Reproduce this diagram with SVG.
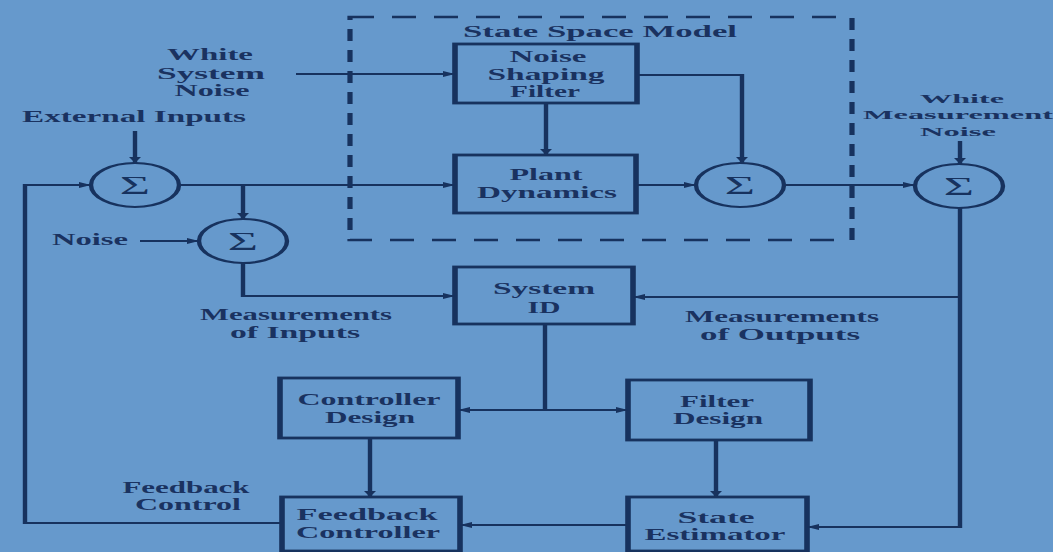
<svg xmlns="http://www.w3.org/2000/svg" width="1053" height="552" viewBox="0 0 1053 552">
<defs>
<style>
.bg{fill:#6699cc}
.box{fill:none;stroke:#17325e;stroke-width:2.8}
.sum{fill:none;stroke:#17325e;stroke-width:2.2}
.ln{fill:none;stroke:#17325e;stroke-width:2.2}
.dash{fill:none;stroke:#17325e;stroke-width:2.6;stroke-dasharray:12 9}
.t{font-family:"Liberation Serif","DejaVu Serif",serif;font-weight:bold;font-size:16px;fill:#1a3260;text-anchor:middle}
.ts{font-size:13px}
.sg{font-family:"Liberation Serif","DejaVu Serif",serif;font-size:26px;fill:#17325e;text-anchor:middle}
</style>
<marker id="arr" viewBox="0 0 6 6" refX="6" refY="3" markerWidth="6" markerHeight="6" markerUnits="userSpaceOnUse" orient="auto">
<path d="M0,0 L6,3 L0,6 z" fill="#17325e"/>
</marker>
</defs>
<rect class="bg" x="0" y="0" width="1053" height="552"/>
<g transform="scale(2 1)">
<g id="state-space-model">
<rect class="dash" x="175" y="17" width="251" height="223"/>
<text class="t" x="300" y="37" textLength="137" lengthAdjust="spacingAndGlyphs">State Space Model</text>
</g>
<g id="noise-shaping-filter">
<rect class="box" x="227.5" y="44" width="91" height="59"/>
<text class="t" x="274" y="62" textLength="38.5" lengthAdjust="spacingAndGlyphs">Noise</text>
<text class="t" x="273" y="80" textLength="58.5" lengthAdjust="spacingAndGlyphs">Shaping</text>
<text class="t" x="272.5" y="97" textLength="35" lengthAdjust="spacingAndGlyphs">Filter</text>
</g>
<g id="plant-dynamics">
<rect class="box" x="227.5" y="155" width="90.5" height="58"/>
<text class="t" x="273" y="180" textLength="36.5" lengthAdjust="spacingAndGlyphs">Plant</text>
<text class="t" x="273.5" y="198" textLength="70" lengthAdjust="spacingAndGlyphs">Dynamics</text>
</g>
<g id="system-id">
<rect class="box" x="227.5" y="267" width="89" height="57"/>
<text class="t" x="272" y="294" textLength="51" lengthAdjust="spacingAndGlyphs">System</text>
<text class="t" x="272" y="313" textLength="16.5" lengthAdjust="spacingAndGlyphs">ID</text>
</g>
<g id="controller-design">
<rect class="box" x="140" y="378" width="89" height="60"/>
<text class="t" x="184.5" y="405" textLength="71.5" lengthAdjust="spacingAndGlyphs">Controller</text>
<text class="t" x="185" y="423" textLength="45" lengthAdjust="spacingAndGlyphs">Design</text>
</g>
<g id="filter-design">
<rect class="box" x="314" y="380" width="91" height="60"/>
<text class="t" x="358.5" y="407" textLength="37" lengthAdjust="spacingAndGlyphs">Filter</text>
<text class="t" x="359" y="424" textLength="45" lengthAdjust="spacingAndGlyphs">Design</text>
</g>
<g id="feedback-controller">
<rect class="box" x="141" y="497" width="89" height="54"/>
<text class="t" x="183.5" y="520" textLength="70.5" lengthAdjust="spacingAndGlyphs">Feedback</text>
<text class="t" x="184" y="538" textLength="72" lengthAdjust="spacingAndGlyphs">Controller</text>
</g>
<g id="state-estimator">
<rect class="box" x="314" y="497" width="89.5" height="54"/>
<text class="t" x="358" y="523" textLength="38.5" lengthAdjust="spacingAndGlyphs">State</text>
<text class="t" x="357.5" y="540" textLength="70.5" lengthAdjust="spacingAndGlyphs">Estimator</text>
</g>
<g id="sum1">
<circle class="sum" cx="67.5" cy="185" r="22"/>
<text class="sg" x="67.5" y="194">Σ</text>
</g>
<g id="sum2">
<circle class="sum" cx="121.5" cy="241" r="22"/>
<text class="sg" x="121.5" y="250">Σ</text>
</g>
<g id="sum3">
<circle class="sum" cx="370" cy="185" r="22"/>
<text class="sg" x="370" y="194">Σ</text>
</g>
<g id="sum4">
<circle class="sum" cx="479.5" cy="186" r="22"/>
<text class="sg" x="479.5" y="195">Σ</text>
</g>
<g id="labels">
<text class="t" x="105" y="60" textLength="43" lengthAdjust="spacingAndGlyphs">White</text>
<text class="t" x="105.5" y="79" textLength="54" lengthAdjust="spacingAndGlyphs">System</text>
<text class="t" x="106" y="96" textLength="37.5" lengthAdjust="spacingAndGlyphs">Noise</text>
<text class="t" x="67" y="122" textLength="112" lengthAdjust="spacingAndGlyphs">External Inputs</text>
<text class="t" x="45" y="245" textLength="38" lengthAdjust="spacingAndGlyphs">Noise</text>
<text class="t" x="148" y="320" textLength="96" lengthAdjust="spacingAndGlyphs">Measurements</text>
<text class="t" x="147.5" y="338" textLength="65" lengthAdjust="spacingAndGlyphs">of Inputs</text>
<text class="t" x="391" y="322" textLength="97" lengthAdjust="spacingAndGlyphs">Measurements</text>
<text class="t" x="390" y="340" textLength="80" lengthAdjust="spacingAndGlyphs">of Outputs</text>
<text class="t ts" x="481" y="103" textLength="42" lengthAdjust="spacingAndGlyphs">White</text>
<text class="t ts" x="479" y="119" textLength="95" lengthAdjust="spacingAndGlyphs">Measurement</text>
<text class="t ts" x="479" y="136" textLength="38" lengthAdjust="spacingAndGlyphs">Noise</text>
<text class="t" x="93" y="493" textLength="63.5" lengthAdjust="spacingAndGlyphs">Feedback</text>
<text class="t" x="94" y="510" textLength="53" lengthAdjust="spacingAndGlyphs">Control</text>
</g>
<g id="connectors">
<path class="ln" d="M141,523 H12.5 V185 H45.5" marker-end="url(#arr)"/>
<path class="ln" d="M67.5,131 V163" marker-end="url(#arr)"/>
<path class="ln" d="M148,74 H227.5" marker-end="url(#arr)"/>
<path class="ln" d="M89.5,185 H227.5" marker-end="url(#arr)"/>
<path class="ln" d="M121.5,185 V219" marker-end="url(#arr)"/>
<path class="ln" d="M70,241 H99.5" marker-end="url(#arr)"/>
<path class="ln" d="M121.5,263 V296 H227.5" marker-end="url(#arr)"/>
<path class="ln" d="M273,103 V155" marker-end="url(#arr)"/>
<path class="ln" d="M318.5,75 H371 V163" marker-end="url(#arr)"/>
<path class="ln" d="M318,185 H348" marker-end="url(#arr)"/>
<path class="ln" d="M392,185 H457.5" marker-end="url(#arr)"/>
<path class="ln" d="M480,141 V164" marker-end="url(#arr)"/>
<path class="ln" d="M480,208 V527 H403.5" marker-end="url(#arr)"/>
<path class="ln" d="M480,297 H316.5" marker-end="url(#arr)"/>
<path class="ln" d="M272.5,324 V410"/>
<path class="ln" d="M272.5,410 H229" marker-end="url(#arr)"/>
<path class="ln" d="M272.5,410 H314" marker-end="url(#arr)"/>
<path class="ln" d="M185,438 V497" marker-end="url(#arr)"/>
<path class="ln" d="M358,440 V497" marker-end="url(#arr)"/>
<path class="ln" d="M314,525 H230" marker-end="url(#arr)"/>
</g>
</g>
</svg>
